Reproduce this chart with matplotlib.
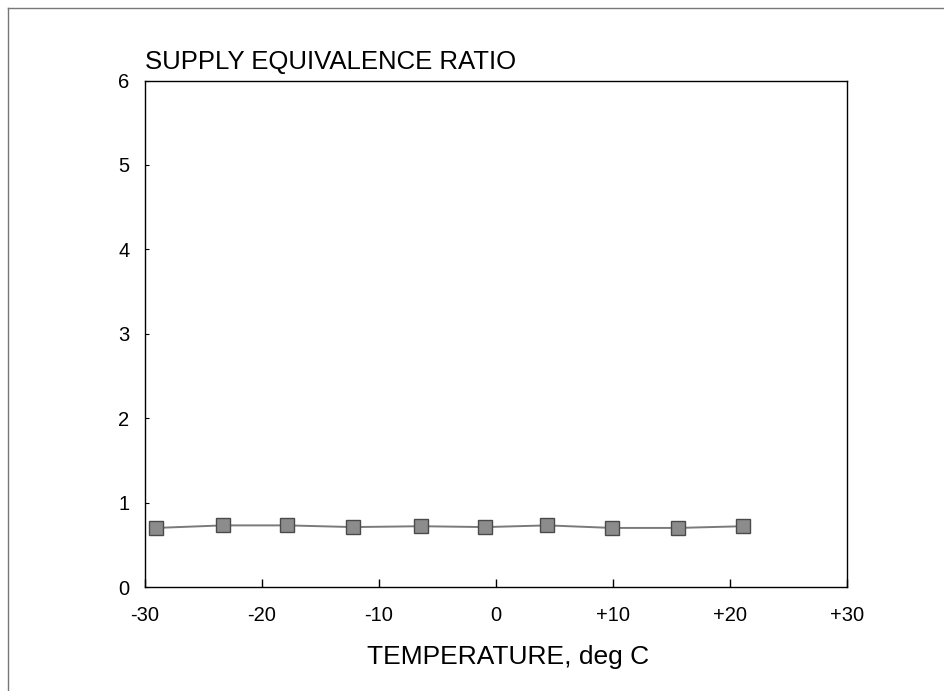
import matplotlib.pyplot as plt
from matplotlib.lines import Line2D

plt.rcParams['font.family'] = ['Liberation Sans', 'DejaVu Sans']

# temperature (deg C) and supply equivalence ratio
temp = [-29.0, -23.3, -17.8, -12.2, -6.4, -0.9, 4.4, 9.9, 15.6, 21.1]
ratio = [0.70, 0.73, 0.73, 0.71, 0.72, 0.71, 0.73, 0.70, 0.70, 0.72]

xticks = [-30, -20, -10, 0, 10, 20, 30]
xticklabels = ['-30', '-20', '-10', '0', '+10', '+20', '+30']
yticks = [0, 1, 2, 3, 4, 5, 6]

fig = plt.figure(figsize=(9.45, 6.91), dpi=100)
ax = fig.add_axes([0.1531, 0.1505, 0.7432, 0.7329])

ax.plot(temp, ratio, color='#7a7a7a', lw=1.4, marker='s', markersize=9.5,
        markerfacecolor='#8c8c8c', markeredgecolor='#4a4a4a', markeredgewidth=1)

ax.set_xlim(-30, 30)
ax.set_ylim(0, 6)
ax.set_xticks(xticks)
ax.set_xticklabels(xticklabels)
ax.set_yticks(yticks)
ax.tick_params(axis='x', direction='in', length=6, width=1, pad=14, labelsize=14.5)
ax.tick_params(axis='y', direction='in', length=3, width=0.8, pad=11, labelsize=14.5)
for s in ax.spines.values():
    s.set_linewidth(1)

ax.set_xlabel('TEMPERATURE, deg C', fontsize=19, labelpad=14, x=0.517)
ax.annotate('SUPPLY EQUIVALENCE RATIO', xy=(0, 1), xycoords='axes fraction',
            xytext=(0, 8), textcoords='offset points', fontsize=18.5,
            ha='left', va='baseline')

# thin frame lines at the top and left of the page
fig.add_artist(Line2D([0.0085, 0.0085], [0, 0.988], transform=fig.transFigure,
                      color='#777777', lw=1))
fig.add_artist(Line2D([0.0085, 1], [0.988, 0.988], transform=fig.transFigure,
                      color='#777777', lw=1))

fig.savefig('out.png', dpi=100)
